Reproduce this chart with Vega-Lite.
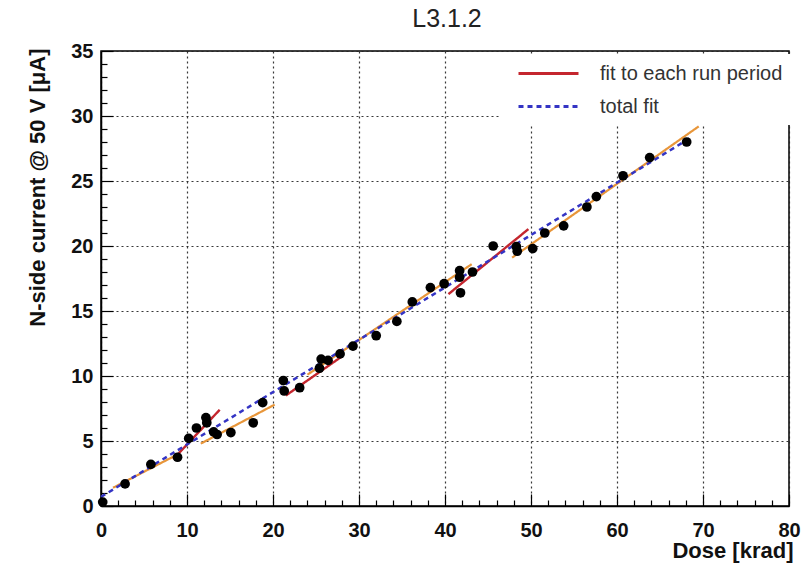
{
  "$schema": "https://vega.github.io/schema/vega-lite/v6.json",
  "width": 688,
  "height": 455,
  "autosize": "none",
  "padding": {"left": 101, "top": 51, "right": 23, "bottom": 62},
  "background": "white",
  "title": {"text": "L3.1.2", "fontSize": 25, "font": "Liberation Sans", "fontWeight": "normal", "color": "#222", "anchor": "middle", "frame": "group", "offset": 9, "dx": 2},
  "config": {
    "view": {"stroke": "black", "strokeWidth": 1.5},
    "font": "Liberation Sans"
  },
  "datasets": {
    "pts": [
      {"dose": 0.2, "cur": 0.3}, {"dose": 2.8, "cur": 1.7}, {"dose": 5.8, "cur": 3.2}, {"dose": 8.9, "cur": 3.75},
      {"dose": 10.2, "cur": 5.2}, {"dose": 11.1, "cur": 6.0}, {"dose": 12.2, "cur": 6.8}, {"dose": 12.3, "cur": 6.4},
      {"dose": 13.1, "cur": 5.7}, {"dose": 13.5, "cur": 5.5}, {"dose": 15.1, "cur": 5.65}, {"dose": 17.7, "cur": 6.4},
      {"dose": 18.8, "cur": 7.95}, {"dose": 21.2, "cur": 9.65}, {"dose": 21.3, "cur": 8.85}, {"dose": 23.1, "cur": 9.1},
      {"dose": 25.4, "cur": 10.6}, {"dose": 25.6, "cur": 11.3}, {"dose": 26.4, "cur": 11.2}, {"dose": 27.8, "cur": 11.7},
      {"dose": 29.3, "cur": 12.3}, {"dose": 32.0, "cur": 13.1}, {"dose": 34.4, "cur": 14.2}, {"dose": 36.2, "cur": 15.7},
      {"dose": 38.3, "cur": 16.8}, {"dose": 39.9, "cur": 17.1}, {"dose": 41.7, "cur": 18.1}, {"dose": 41.7, "cur": 17.6},
      {"dose": 41.8, "cur": 16.4}, {"dose": 43.2, "cur": 18.0}, {"dose": 45.6, "cur": 20.0}, {"dose": 48.3, "cur": 19.95},
      {"dose": 48.4, "cur": 19.6}, {"dose": 50.2, "cur": 19.8}, {"dose": 51.6, "cur": 21.0}, {"dose": 53.8, "cur": 21.55},
      {"dose": 56.5, "cur": 23.0}, {"dose": 57.6, "cur": 23.8}, {"dose": 60.7, "cur": 25.4}, {"dose": 63.8, "cur": 26.8},
      {"dose": 68.1, "cur": 28.0}
    ],
    "fits": [
      {"seg": "r1", "series": "fit to each run period", "dose": 8.4, "cur": 3.6},
      {"seg": "r1", "series": "fit to each run period", "dose": 13.8, "cur": 7.4},
      {"seg": "r2", "series": "fit to each run period", "dose": 21.5, "cur": 8.5},
      {"seg": "r2", "series": "fit to each run period", "dose": 28.0, "cur": 11.5},
      {"seg": "r3", "series": "fit to each run period", "dose": 40.4, "cur": 16.3},
      {"seg": "r3", "series": "fit to each run period", "dose": 49.7, "cur": 21.3},
      {"seg": "o1", "series": "orange", "dose": 1.4, "cur": 1.4},
      {"seg": "o1", "series": "orange", "dose": 9.0, "cur": 4.0},
      {"seg": "o2", "series": "orange", "dose": 11.6, "cur": 4.8},
      {"seg": "o2", "series": "orange", "dose": 20.2, "cur": 7.8},
      {"seg": "o3", "series": "orange", "dose": 24.0, "cur": 10.1},
      {"seg": "o3", "series": "orange", "dose": 43.1, "cur": 18.6},
      {"seg": "o4", "series": "orange", "dose": 47.8, "cur": 19.1},
      {"seg": "o4", "series": "orange", "dose": 69.5, "cur": 29.2},
      {"seg": "t", "series": "total fit", "dose": 0.0, "cur": 0.7},
      {"seg": "t", "series": "total fit", "dose": 68.5, "cur": 28.3}
    ]
  },
  "encoding": {
    "x": {
      "field": "dose", "type": "quantitative",
      "scale": {"domain": [0, 80], "nice": false, "zero": false},
      "axis": {
        "title": "Dose [krad]",
        "titleFontSize": 22, "titleFontWeight": "bold", "titleColor": "#111",
        "titleX": 692, "titleY": 44, "titleAlign": "right", "titleBaseline": "middle",
        "values": [0,2,4,6,8,10,12,14,16,18,20,22,24,26,28,30,32,34,36,38,40,42,44,46,48,50,52,54,56,58,60,62,64,66,68,70,72,74,76,78,80],
        "labelExpr": "datum.value % 10 === 0 ? datum.label : ''",
        "labelFontSize": 20, "labelFontWeight": "bold", "labelColor": "#111", "labelPadding": 26, "labelFlush": false,
        "tickSize": {"condition": {"test": "datum.value % 10 === 0", "value": -12}, "value": -6},
        "tickColor": "black", "tickWidth": 1.2,
        "domainColor": "black", "domainWidth": 1.5,
        "grid": true, "gridColor": "#222", "gridDash": [2, 3], "gridWidth": 1.2,
        "gridOpacity": {"condition": {"test": "datum.value % 10 === 0", "value": 0.9}, "value": 0}
      }
    },
    "y": {
      "field": "cur", "type": "quantitative",
      "scale": {"domain": [0, 35], "nice": false, "zero": false},
      "axis": {
        "title": "N-side current @ 50 V [μA]",
        "titleFontSize": 22, "titleFontWeight": "bold", "titleColor": "#111",
        "titleX": -64, "titleY": -3, "titleAlign": "right", "titleBaseline": "middle", "titleAngle": 270,
        "values": [0,1,2,3,4,5,6,7,8,9,10,11,12,13,14,15,16,17,18,19,20,21,22,23,24,25,26,27,28,29,30,31,32,33,34,35],
        "labelExpr": "datum.value % 5 === 0 ? datum.label : ''",
        "labelFontSize": 20, "labelFontWeight": "bold", "labelColor": "#111", "labelPadding": 20, "labelFlush": false,
        "tickSize": {"condition": {"test": "datum.value % 5 === 0", "value": -12}, "value": -6},
        "tickColor": "black", "tickWidth": 1.2,
        "domainColor": "black", "domainWidth": 1.5,
        "grid": true, "gridColor": "#222", "gridDash": [2, 3], "gridWidth": 1.2,
        "gridOpacity": {"condition": {"test": "datum.value % 5 === 0", "value": 0.9}, "value": 0}
      }
    }
  },
  "layer": [
    {
      "data": {"name": "fits"},
      "transform": [{"filter": "datum.series === 'fit to each run period'"}],
      "mark": {"type": "line", "strokeWidth": 2.4},
      "encoding": {
        "detail": {"field": "seg"},
        "color": {"field": "series", "type": "nominal"},
        "strokeDash": {"field": "series", "type": "nominal"}
      }
    },
    {
      "data": {"name": "fits"},
      "transform": [{"filter": "datum.series === 'orange'"}],
      "mark": {"type": "line", "strokeWidth": 2.2},
      "encoding": {
        "detail": {"field": "seg"},
        "color": {"field": "series", "type": "nominal"},
        "strokeDash": {"field": "series", "type": "nominal"}
      }
    },
    {
      "data": {"name": "fits"},
      "transform": [{"filter": "datum.series === 'total fit'"}],
      "mark": {"type": "line", "strokeWidth": 2.5},
      "encoding": {
        "detail": {"field": "seg"},
        "color": {
          "field": "series", "type": "nominal",
          "scale": {"domain": ["fit to each run period", "total fit", "orange"], "range": ["#c4262e", "#3434c4", "#e8963a"]},
          "legend": {
            "title": null, "values": ["fit to each run period", "total fit"],
            "orient": "none", "legendX": 398, "legendY": 3,
            "symbolType": "M0,0H6", "symbolSize": 400, "symbolStrokeWidth": 3,
            "labelFontSize": 20, "labelColor": "#333", "labelOffset": 70, "labelLimit": 400, "rowPadding": 11,
            "fillColor": "white", "padding": 8,
            "encode": {"symbols": {"update": {
              "stroke": [{"test": "datum.label === 'total fit'", "value": "#5a86b8"}, {"value": "#c8282e"}],
              "strokeDash": [{"test": "datum.label === 'total fit'", "value": [8, 7]}, {"value": [1, 0]}]
            }}}
          }
        },
        "strokeDash": {
          "field": "series", "type": "nominal",
          "scale": {"domain": ["fit to each run period", "total fit", "orange"], "range": [[1, 0], [5, 4], [1, 0]]},
          "legend": {
            "title": null, "values": ["fit to each run period", "total fit"],
            "orient": "none", "legendX": 398, "legendY": 3,
            "symbolType": "M0,0H6", "symbolSize": 400, "symbolStrokeWidth": 3,
            "labelFontSize": 20, "labelColor": "#333", "labelOffset": 70, "labelLimit": 400, "rowPadding": 11,
            "fillColor": "white", "padding": 8,
            "encode": {"symbols": {"update": {
              "stroke": [{"test": "datum.label === 'total fit'", "value": "#5a86b8"}, {"value": "#c8282e"}],
              "strokeDash": [{"test": "datum.label === 'total fit'", "value": [8, 7]}, {"value": [1, 0]}]
            }}}
          }
        }
      }
    },
    {
      "data": {"name": "pts"},
      "mark": {"type": "circle", "size": 95, "color": "black", "opacity": 1},
      "encoding": {}
    }
  ]
}
